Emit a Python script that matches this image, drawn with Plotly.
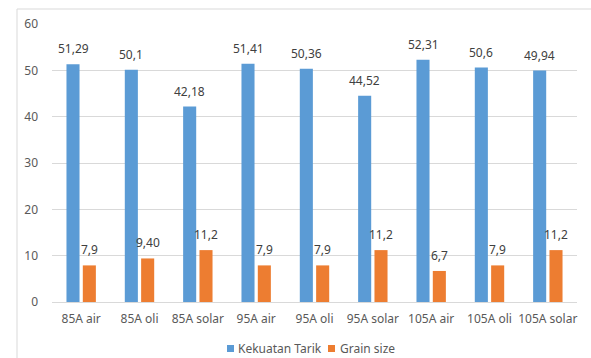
import plotly.graph_objects as go

categories = ["85A air", "85A oli", "85A solar", "95A air", "95A oli", "95A solar",
              "105A air", "105A oli", "105A solar"]
kekuatan_tarik = [51.29, 50.1, 42.18, 51.41, 50.36, 44.52, 52.31, 50.6, 49.94]
kekuatan_labels = ["51,29", "50,1", "42,18", "51,41", "50,36", "44,52", "52,31", "50,6", "49,94"]
grain_size = [7.9, 9.40, 11.2, 7.9, 7.9, 11.2, 6.7, 7.9, 11.2]
grain_labels = ["7,9", "9,40", "11,2", "7,9", "7,9", "11,2", "6,7", "7,9", "11,2"]
series_names = ["Kekuatan Tarik", "Grain size"]
series_colors = ["#5b9bd5", "#ed7d31"]
y_ticks = [0, 10, 20, 30, 40, 50, 60]

FONT = "Noto Sans"
FS = 12
TXT = "#595959"
W, H = 591, 358
ML, MR, MT, MB = 52, 14, 24, 56
PW, PH = W - ML - MR, H - MT - MB
BARGAP = 0.44
BARGROUPGAP = 0.2


def px_x(x):
    return (x - ML) / PW


def px_y(y):
    return (H - MB - y) / PH


fig = go.Figure()
for name, vals, col in zip(series_names, [kekuatan_tarik, grain_size], series_colors):
    fig.add_trace(go.Bar(x=categories, y=vals, name=name,
                         marker=dict(color=col, line=dict(width=0)), showlegend=False))

# data labels over each bar (offset within the group)
cat_w = PW / len(categories)
slot = cat_w * (1 - BARGAP) / 2
for series, labels, sign in [(kekuatan_tarik, kekuatan_labels, -1), (grain_size, grain_labels, 1)]:
    for c, v, lab in zip(categories, series, labels):
        fig.add_annotation(x=c, y=v, text=lab, showarrow=False, xref="x", yref="y",
                           xshift=sign * slot / 2, yshift=5, yanchor="bottom",
                           font=dict(family=FONT, size=FS, color="#404040"))

# compact Excel-style legend
legend_pos = [(227, 236), (328, 338)]
for (sq_x, tx_x), name, col in zip(legend_pos, series_names, series_colors):
    fig.add_shape(type="rect", xref="paper", yref="paper",
                  x0=px_x(sq_x), x1=px_x(sq_x + 7), y0=px_y(352), y1=px_y(345),
                  fillcolor=col, line=dict(width=0))
    fig.add_annotation(x=px_x(tx_x), y=px_y(348), xref="paper", yref="paper",
                       text=name, showarrow=False, xanchor="left", yanchor="middle",
                       font=dict(family=FONT, size=FS, color=TXT))

fig.update_layout(
    width=W, height=H,
    margin=dict(l=ML, r=MR, t=MT, b=MB, autoexpand=False),
    paper_bgcolor="white", plot_bgcolor="white",
    barmode="group", bargap=BARGAP, bargroupgap=BARGROUPGAP,
    font=dict(family=FONT, size=FS, color=TXT),
    showlegend=False,
)
fig.update_yaxes(range=[0, 60], tickvals=y_ticks, showgrid=True, gridcolor="#d9d9d9",
                 gridwidth=1, zeroline=False, showline=False, ticks="",
                 tickfont=dict(family=FONT, size=FS, color=TXT), ticklabelstandoff=13)
fig.update_xaxes(showline=True, linecolor="#d9d9d9", linewidth=1, ticks="",
                 tickfont=dict(family=FONT, size=FS, color=TXT), ticklabelstandoff=6)

# chart-area frame (cropped at right and bottom like the reference)
fig.add_shape(type="rect", xref="paper", yref="paper",
              x0=px_x(17), x1=px_x(600), y0=px_y(370), y1=px_y(9),
              line=dict(color="#d9d9d9", width=1), fillcolor="rgba(0,0,0,0)", layer="below")

fig.write_html("out.html")
